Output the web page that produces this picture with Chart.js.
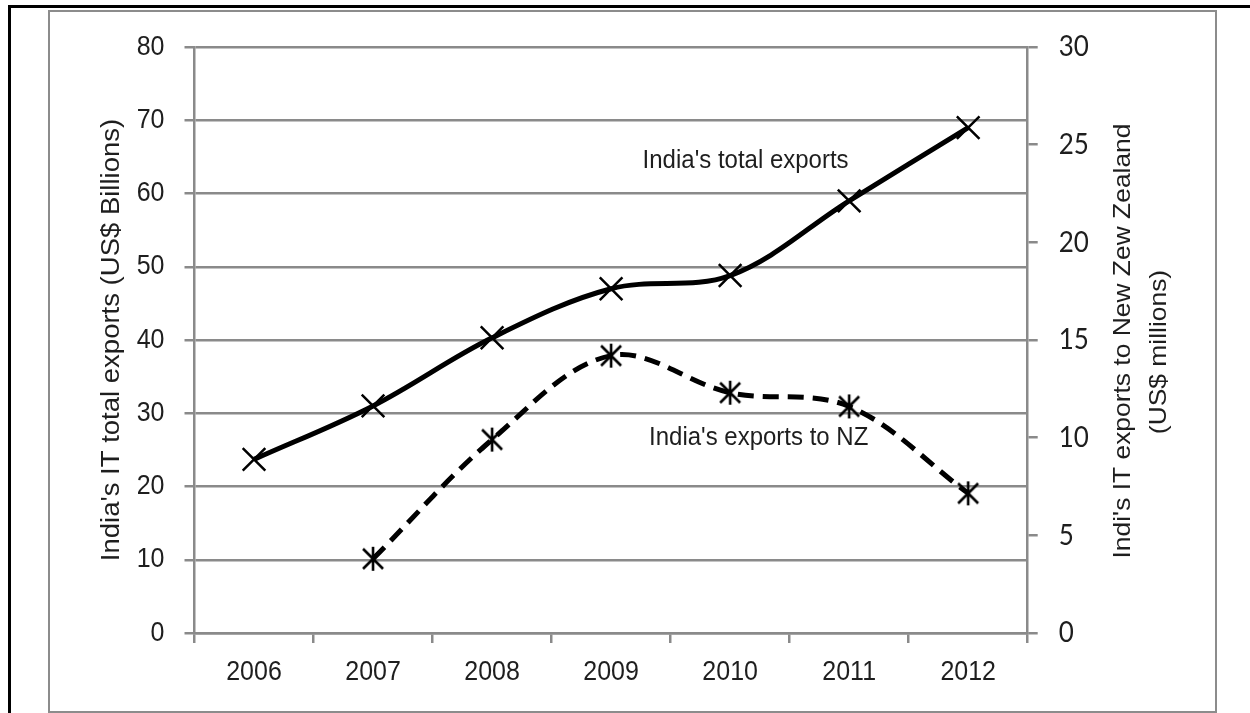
<!DOCTYPE html>
<html>
<head>
<meta charset="utf-8">
<script src="https://cdn.jsdelivr.net/npm/chart.js@4.4.1/dist/chart.umd.min.js"></script>
<style>
  html, body { margin: 0; padding: 0; background: #fff; width: 1250px; height: 713px; overflow: hidden; }
  #black { position: absolute; left: 8px; top: 5px; width: 1250px; height: 720px; border-top: 3px solid #000; border-left: 3px solid #000; }
  #gray { position: absolute; left: 48px; top: 10px; width: 1165px; height: 699px; border: 2.5px solid #8c8c8c; }
  #c { position: absolute; left: 0; top: 0; }
</style>
</head>
<body>
<div id="black"></div>
<div id="gray"></div>
<canvas id="c" width="1250" height="713"></canvas>
<script>
const years = ['2006', '2007', '2008', '2009', '2010', '2011', '2012'];
const totalExports = [23.7, 31.0, 40.3, 47.0, 48.8, 59.0, 69.0];      // US$ billions (left axis)
const nzExports = [null, 3.8, 9.9, 14.2, 12.3, 11.6, 7.15];           // US$ millions (right axis)
const leftTicks = [0, 10, 20, 30, 40, 50, 60, 70, 80];
const rightTicks = [0, 5, 10, 15, 20, 25, 30];
const leftTitle = "India's IT total exports (US$ Billions)";
const rightTitle = ["Indi's IT exports to New Zew Zealand", "(US$ millions)"];
const labelTotal = "India's total exports";
const labelNZ = "India's exports to NZ";

const ARIAL = "'Liberation Sans', Arial, sans-serif";
const CALIBRI = "Lato, Carlito, Calibri, sans-serif";
const GRID = '#8a8a8a';
const INK = '#1e1e1e';
const VSTRETCH = 1.1;

// asterisk marker (X + vertical bar)
const star = document.createElement('canvas');
star.width = 26; star.height = 26;
(function () {
  const g = star.getContext('2d');
  g.strokeStyle = '#000'; g.lineWidth = 2.6; g.lineCap = 'butt';
  g.beginPath();
  g.moveTo(3, 3); g.lineTo(23, 23);
  g.moveTo(23, 3); g.lineTo(3, 23);
  g.moveTo(13, 1); g.lineTo(13, 25);
  g.stroke();
})();

function drawText(ctx, text, x, y, font, align, rotated) {
  ctx.save();
  ctx.translate(x, y);
  ctx.scale(1, VSTRETCH);
  if (rotated) ctx.rotate(-Math.PI / 2);
  ctx.font = font;
  ctx.textAlign = align;
  ctx.textBaseline = 'middle';
  ctx.fillText(text, 0, 0);
  ctx.restore();
}

const textPlugin = {
  id: 'texts',
  afterDraw(chart) {
    const ctx = chart.ctx;
    const x = chart.scales.x, yl = chart.scales.y, yr = chart.scales.y2;
    ctx.save();
    ctx.fillStyle = INK;
    // tick labels
    leftTicks.forEach(v => drawText(ctx, String(v), yl.left + yl.width - 30, yl.getPixelForValue(v), '25px ' + ARIAL, 'right'));
    rightTicks.forEach(v => drawText(ctx, String(v), yr.left + 31, yr.getPixelForValue(v), '26px ' + CALIBRI, 'left'));
    years.forEach((lab, i) => drawText(ctx, lab, x.getPixelForValue(i), x.top + 39, '25px ' + ARIAL, 'center'));
    // axis titles
    drawText(ctx, leftTitle, 112, 340, '25px ' + ARIAL, 'center', true);
    drawText(ctx, rightTitle[0], 1123, 341, '24px ' + ARIAL, 'center', true);
    drawText(ctx, rightTitle[1], 1159, 352, '24px ' + ARIAL, 'center', true);
    // series annotations
    drawText(ctx, labelTotal, x.getPixelForValue(4.13), yl.getPixelForValue(64.5), '24px ' + ARIAL, 'center');
    drawText(ctx, labelNZ, x.getPixelForValue(4.24), yl.getPixelForValue(26.7), '24px ' + ARIAL, 'center');
    ctx.restore();
  }
};

new Chart(document.getElementById('c'), {
  type: 'line',
  data: {
    labels: years,
    datasets: [
      {
        label: 'total',
        data: totalExports,
        yAxisID: 'y',
        borderColor: '#000',
        borderWidth: 5,
        tension: 0.35,
        pointStyle: 'crossRot',
        pointRadius: 16,
        pointBorderWidth: 2.5,
        pointBorderColor: '#000',
        pointBackgroundColor: '#000'
      },
      {
        label: 'nz',
        data: nzExports,
        yAxisID: 'y2',
        borderColor: '#000',
        borderWidth: 5,
        borderDash: [16, 9],
        tension: 0.35,
        pointStyle: star,
        pointRadius: 12
      }
    ]
  },
  options: {
    responsive: false,
    animation: false,
    devicePixelRatio: 1,
    layout: { padding: { top: 47, left: 0, right: 0, bottom: 0 } },
    plugins: { legend: { display: false }, tooltip: { enabled: false } },
    scales: {
      x: {
        offset: true,
        grid: { offset: true, drawOnChartArea: false, color: GRID, lineWidth: 2.5, tickLength: 10 },
        border: { color: GRID, width: 2.5 },
        ticks: { display: false },
        afterFit(s) { s.height = 80; }
      },
      y: {
        position: 'left',
        min: 0, max: 80,
        ticks: { stepSize: 10, display: false },
        grid: { color: GRID, lineWidth: 2.5, tickLength: 10 },
        border: { color: GRID, width: 2.5 },
        afterFit(s) { s.width = 194.5; }
      },
      y2: {
        position: 'right',
        min: 0, max: 30,
        ticks: { stepSize: 5, display: false },
        grid: { drawOnChartArea: false, color: GRID, lineWidth: 2.5, tickLength: 10 },
        border: { color: GRID, width: 2.5 },
        afterFit(s) { s.width = 222.3; }
      }
    }
  },
  plugins: [textPlugin]
});
</script>
</body>
</html>
